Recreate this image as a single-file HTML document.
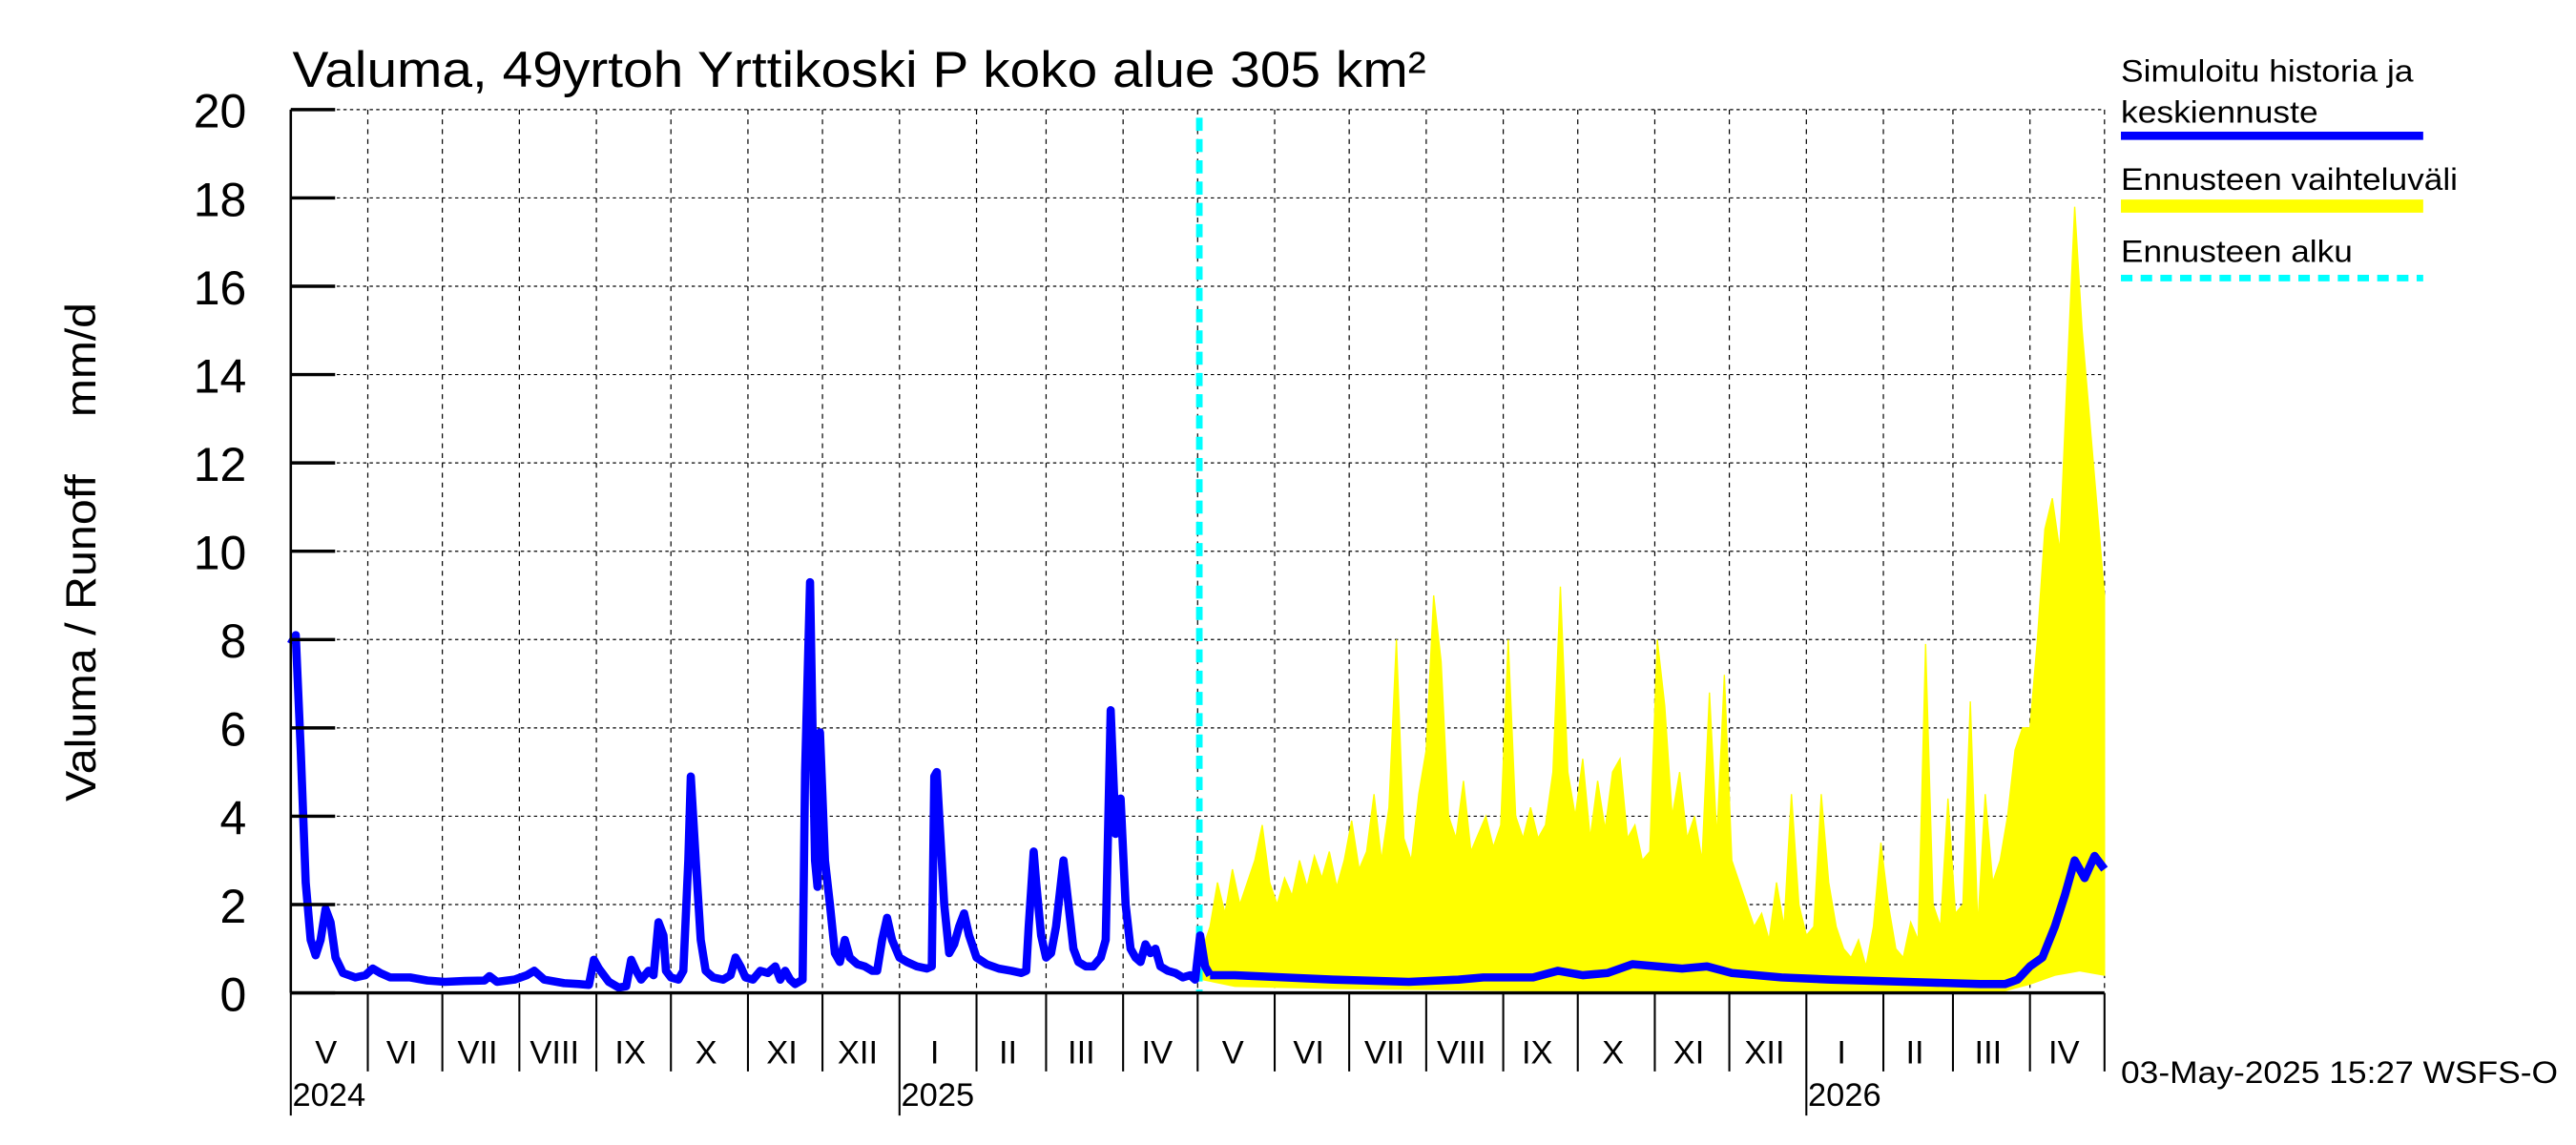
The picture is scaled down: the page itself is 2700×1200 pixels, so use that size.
<!DOCTYPE html>
<html><head><meta charset="utf-8"><style>html,body{margin:0;padding:0;background:#fff}svg{display:block}text{font-family:"Liberation Sans",sans-serif}</style></head>
<body>
<svg id="chart" width="2700" height="1200" viewBox="0 0 1568 700" preserveAspectRatio="none" xmlns="http://www.w3.org/2000/svg">
<rect width="1568" height="700" fill="#fff"/>
<g id="grid"></g>
<g id="band"></g>
<g id="lines"></g>
<g id="axes"></g>
<text x="178" y="53" font-size="31" textLength="690" lengthAdjust="spacingAndGlyphs">Valuma, 49yrtoh Yrttikoski P koko alue 305 km²</text>
<text transform="translate(58,490) rotate(-90)" font-size="26" textLength="200" lengthAdjust="spacingAndGlyphs">Valuma / Runoff</text>
<text transform="translate(58,255) rotate(-90)" font-size="26" textLength="70" lengthAdjust="spacingAndGlyphs">mm/d</text>
<g font-size="19">
<text x="1291" y="50" textLength="178" lengthAdjust="spacingAndGlyphs">Simuloitu historia ja</text>
<text x="1291" y="75" textLength="120" lengthAdjust="spacingAndGlyphs">keskiennuste</text>
<line x1="1291" y1="83" x2="1475" y2="83" stroke="#0000ff" stroke-width="5"/>
<text x="1291" y="116" textLength="205" lengthAdjust="spacingAndGlyphs">Ennusteen vaihteluväli</text>
<line x1="1291" y1="126" x2="1475" y2="126" stroke="#ffff00" stroke-width="8"/>
<text x="1291" y="160" textLength="141" lengthAdjust="spacingAndGlyphs">Ennusteen alku</text>
<line x1="1291" y1="170" x2="1475" y2="170" stroke="#00ffff" stroke-width="4" stroke-dasharray="7,5"/>
</g>
<text x="1291" y="662" font-size="19" textLength="266" lengthAdjust="spacingAndGlyphs">03-May-2025 15:27 WSFS-O</text>
</svg>
<script>
const histDays=[0,2,4,6,8,10,12,14,16,18,21,26,30,33,36,40,48,55,62,70,78,80,83,90,95,98,102,110,116,120,122,124,128,132,135,137,139,141,144,146,148,150,151,153,156,158,160,161,163,165,167,170,174,177,179,181,183,186,189,192,195,197,199,201,203,206,207,209,210,211,212,213,215,217,219,221,223,225,228,231,234,236,238,240,242,245,248,252,256,258,259,260,261,263,265,267,269,271,273,276,280,285,290,294,296,297,299,300,302,304,306,308,311,313,315,317,320,323,326,328,330,332,333,334,336,338,340,342,344,346,348,350,353,356,359,362,364,366,368,370];
const histVals=[7.9,8.1,5.5,2.5,1.2,0.85,1.2,1.9,1.6,0.8,0.45,0.35,0.4,0.55,0.45,0.35,0.35,0.28,0.25,0.27,0.28,0.38,0.25,0.3,0.4,0.5,0.3,0.22,0.2,0.18,0.75,0.55,0.25,0.12,0.15,0.75,0.5,0.3,0.5,0.4,1.6,1.3,0.5,0.35,0.3,0.5,3,4.9,3,1.2,0.5,0.35,0.3,0.4,0.8,0.6,0.35,0.3,0.5,0.45,0.6,0.3,0.5,0.3,0.2,0.3,5,9.3,6,3,2.4,5.9,3,2,0.9,0.7,1.2,0.8,0.65,0.6,0.5,0.5,1.2,1.7,1.2,0.8,0.7,0.6,0.55,0.6,4.9,5,4,2,0.9,1.1,1.5,1.8,1.3,0.8,0.65,0.55,0.5,0.45,0.5,1.5,3.2,2.5,1.3,0.8,0.9,1.5,3,2,1,0.7,0.6,0.6,0.8,1.2,6.4,3.6,4,4.4,2,1,0.8,0.7,1.1,0.9,1,0.6,0.5,0.45,0.35,0.4,0.3,1.3,0.6,0.4];
const fcDays=[370,380,400,420,450,470,480,500,510,520,530,540,560,570,580,600,620,650,680,690,695,700,705,710,714,718,722,726,730];
const fcVals=[0.4,0.4,0.35,0.3,0.25,0.3,0.35,0.35,0.5,0.4,0.45,0.65,0.55,0.6,0.45,0.35,0.3,0.25,0.2,0.2,0.3,0.6,0.8,1.5,2.2,3,2.6,3.1,2.8];
const bandStart=367;
const bandHigh=[1.0,1.5,2.5,1.8,2.8,2.0,2.5,3.0,3.8,2.5,2.0,2.6,2.2,3.0,2.4,3.1,2.6,3.2,2.4,3.0,3.9,2.8,3.2,4.5,3.0,4.2,8.0,3.5,3.0,4.5,5.5,9.0,7.5,4.0,3.5,4.8,3.2,3.6,4.0,3.3,3.8,8.0,4.0,3.5,4.2,3.5,3.8,5.0,9.2,5.0,4.0,5.3,3.5,4.8,3.7,5.0,5.3,3.5,3.8,3.0,3.2,8.0,6.5,4.0,5.0,3.5,4.0,3.0,6.8,3.5,7.2,3.0,2.5,2.0,1.5,1.8,1.2,2.5,1.5,4.5,2.0,1.3,1.5,4.5,2.5,1.5,1.0,0.8,1.2,0.6,1.5,3.4,2.0,1.0,0.8,1.6,1.2,7.9,2.0,1.5,4.4,1.8,2.0,6.6,1.5,4.5,2.5,3.0,4.0,5.5,6.0,6.0,8.0,10.5,11.2,10.0,14.0,17.8,15.0,13.0,11.0,9.0];
const lowDays=[367,380,420,500,600,690,700,710,720,730];
const lowVals=[0.3,0.15,0.1,0.05,0.05,0.05,0.2,0.4,0.5,0.4];
const yTicks=[0,2,4,6,8,10,12,14,16,18,20];
const monthLabels=["V","VI","VII","VIII","IX","X","XI","XII","I","II","III","IV","V","VI","VII","VIII","IX","X","XI","XII","I","II","III","IV"];
const monthStartDays=[0,31,61,92,123,153,184,214,245,276,304,335,365,396,426,457,488,518,549,579,610,641,669,700,730];
const yearLabels=["2024","2025","2026"];
const yearDays=[0,245,610];
const forecastStartDay=367;

const NS="http://www.w3.org/2000/svg";
const X0=177,X1=1281,Y0=607,Y1=67,TOTAL=730;
const xs=d=>X0+d*(X1-X0)/TOTAL;
const ys=v=>Y0-v*(Y0-Y1)/20;
function mk(parent,tag,attrs){const e=document.createElementNS(NS,tag);for(const k in attrs)e.setAttribute(k,attrs[k]);document.getElementById(parent).appendChild(e);return e;}

yTicks.forEach(v=>{if(v===0)return;
 const l=mk('grid','line',{x1:X0,x2:X1,y1:ys(v),y2:ys(v),stroke:'#000','stroke-width':0.7,'stroke-dasharray':'2,2'});
 
 });
monthStartDays.forEach(d=>{if(d===0)return;
 const l=mk('grid','line',{x1:xs(d),x2:xs(d),y1:Y1,y2:Y0,stroke:'#000','stroke-width':0.7,'stroke-dasharray':'3,3'});
 
 });

let pts=[];
bandHigh.forEach((v,i)=>pts.push(xs(Math.min(bandStart+3*i,TOTAL))+','+ys(v)));
for(let i=lowDays.length-1;i>=0;i--)pts.push(xs(lowDays[i])+','+ys(lowVals[i]));
const band=mk('band','polygon',{points:pts.join(' '),fill:'#ffff00',stroke:'#ffff00','stroke-width':0.8});



const fs=mk('lines','line',{x1:xs(forecastStartDay)-2,x2:xs(forecastStartDay)-2,y1:72,y2:Y0,stroke:'#00ffff','stroke-width':4,'stroke-dasharray':'8,5'});



const n=Math.min(histDays.length,histVals.length);
const hp=[];for(let i=0;i<n;i++)hp.push(xs(histDays[i])+','+ys(histVals[i]));
const h=mk('lines','polyline',{points:hp.join(' '),fill:'none',stroke:'#0000ff','stroke-width':5,'stroke-linejoin':'round'});


const fp=fcDays.map((d,i)=>xs(d)+','+ys(fcVals[i])).join(' ');
const f=mk('lines','polyline',{points:fp,fill:'none',stroke:'#0000ff','stroke-width':5,'stroke-linejoin':'round'});



const la=mk('axes','line',{x1:X0,x2:X0,y1:Y1,y2:Y0,stroke:'#000','stroke-width':1.5});


const ba=mk('axes','line',{x1:X0,x2:X1,y1:Y0,y2:Y0,stroke:'#000','stroke-width':2});


yTicks.forEach(v=>{
 const t=mk('axes','line',{x1:X0,x2:X0+27,y1:ys(v),y2:ys(v),stroke:'#000','stroke-width':2});
 
 
 const tx=mk('axes','text',{x:150,y:ys(v)+11,'text-anchor':'end','font-size':29});
 tx.textContent=v;
 
 });
monthStartDays.forEach(d=>{
 const isYear=yearDays.indexOf(d)>=0;
 const t=mk('axes','line',{x1:xs(d),x2:xs(d),y1:Y0,y2:isYear?682:655,stroke:'#000','stroke-width':1.2});
 
 });
monthLabels.forEach((m,i)=>{
 const tx=mk('axes','text',{x:(xs(monthStartDays[i])+xs(monthStartDays[i+1]))/2-2,y:650,'text-anchor':'middle','font-size':20});
 tx.textContent=m;
 
 });
yearLabels.forEach((y,i)=>{
 const tx=mk('axes','text',{x:xs(yearDays[i])+1,y:676,'font-size':20});
 tx.textContent=y;
 
 });
</script>
</body></html>
